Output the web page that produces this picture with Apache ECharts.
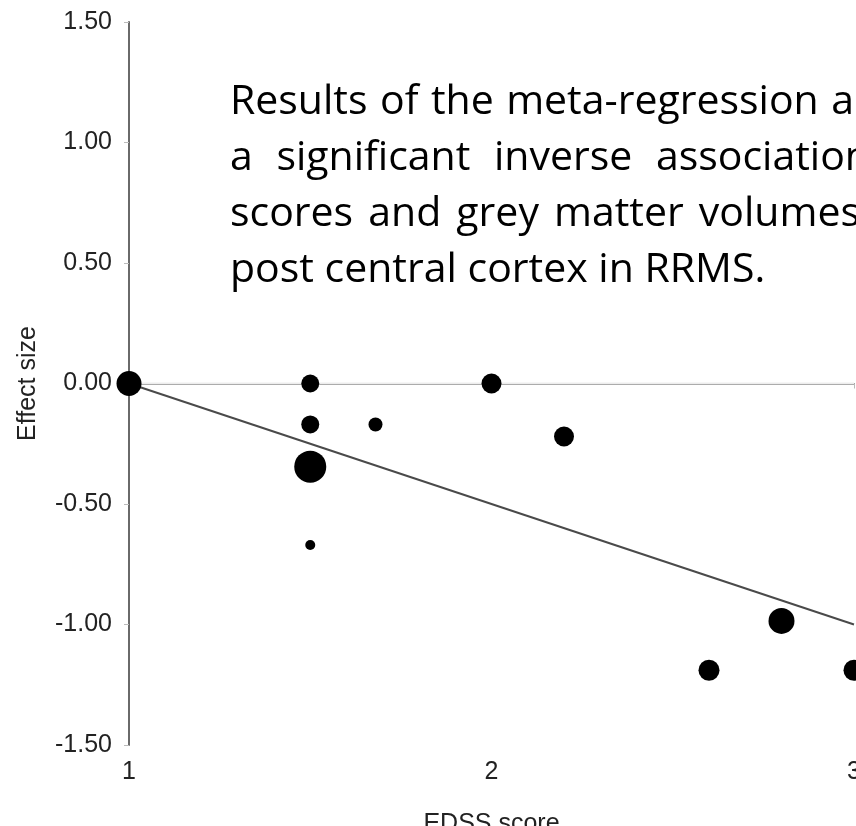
<!DOCTYPE html>
<html>
<head>
<meta charset="utf-8">
<script src="https://cdn.jsdelivr.net/npm/echarts@6/dist/echarts.min.js"></script>
<style>
  html, body { margin: 0; padding: 0; background: #fff; }
  #chart { width: 856px; height: 826px; }
</style>
</head>
<body>
<div id="chart"></div>
<script>
// study points: EDSS score, effect size, marker diameter (study weight)
const edss = [1.0, 1.5, 1.5, 1.5, 1.5, 1.68, 2.0, 2.2, 2.6, 2.8, 3.0];
const effect = [0.0, 0.0, -0.17, -0.345, -0.67, -0.17, 0.0, -0.22, -1.19, -0.985, -1.19];
const weight = [25, 18, 18, 32, 10, 14, 20, 20, 21, 26, 21];

// meta-regression fit line end points
const fitX = [1, 3];
const fitY = [0.0, -1.0];

// overlaid note text (justified paragraph, last line left aligned)
const noteLines = [
  'Results of the meta-regression a',
  'a significant inverse association',
  'scores and grey matter volumes',
  'post central cortex in RRMS.',
];
const noteWidths = [624, 640, 630, null];

const chart = echarts.init(document.getElementById('chart'));

const labelFont = { fontFamily: 'Liberation Sans', fontSize: 25, color: '#222' };
const noteFont = { fontFamily: 'Open Sans', fontSize: 41, fill: '#000', verticalAlign: 'middle' };

// spread the words of a line so it fills the given width
const ctx = document.createElement('canvas').getContext('2d');
ctx.font = noteFont.fontSize + 'px "' + noteFont.fontFamily + '"';
const graphics = [];
noteLines.forEach((line, i) => {
  const y = 102 + i * 56;
  const words = line.split(' ');
  const target = noteWidths[i];
  if (!target) {
    graphics.push({ type: 'text', x: 230, y: y, z: 10, style: { ...noteFont, text: line } });
    return;
  }
  const widths = words.map(w => ctx.measureText(w).width);
  const gap = (target - widths.reduce((a, b) => a + b, 0)) / (words.length - 1);
  let x = 230;
  words.forEach((w, j) => {
    graphics.push({ type: 'text', x: x, y: y, z: 10, style: { ...noteFont, text: w } });
    x += widths[j] + gap;
  });
});

const option = {
  animation: false,
  backgroundColor: '#fff',
  grid: { left: 129, right: 2, top: 22, bottom: 81, outerBoundsMode: 'none', containLabel: false },
  xAxis: {
    type: 'value',
    min: 1,
    max: 3,
    interval: 1,
    name: 'EDSS score',
    nameLocation: 'middle',
    nameGap: 67,
    nameTextStyle: labelFont,
    axisLine: { lineStyle: { color: '#6a6a6a', width: 2 } },
    axisTick: { show: true, length: 5, lineStyle: { color: '#bbb', width: 1 } },
    axisLabel: { ...labelFont, margin: 15 },
    splitLine: { show: false },
  },
  yAxis: {
    type: 'value',
    min: -1.5,
    max: 1.5,
    interval: 0.5,
    name: 'Effect size',
    nameLocation: 'middle',
    nameGap: 88,
    nameTextStyle: labelFont,
    axisLine: { show: true, lineStyle: { color: '#6a6a6a', width: 2 } },
    axisTick: { show: true, length: 5, lineStyle: { color: '#bbb', width: 1 } },
    axisLabel: {
      ...labelFont,
      margin: 17,
      formatter: v => v.toFixed(2),
    },
    splitLine: { show: false },
  },
  series: [
    {
      // zero reference line
      type: 'line',
      data: [[1, 0], [3, 0]],
      symbol: 'none',
      lineStyle: { color: '#ededed', width: 2 },
      silent: true,
      z: 1,
    },
    {
      type: 'line',
      data: fitX.map((x, i) => [x, fitY[i]]),
      symbol: 'none',
      lineStyle: { color: '#4a4a4a', width: 2 },
      z: 2,
    },
    {
      type: 'scatter',
      data: edss.map((x, i) => [x, effect[i], weight[i]]),
      symbolSize: d => d[2],
      itemStyle: { color: '#000', opacity: 1 },
      z: 3,
    },
  ],
  graphic: graphics,
};

chart.setOption(option);
</script>
</body>
</html>
